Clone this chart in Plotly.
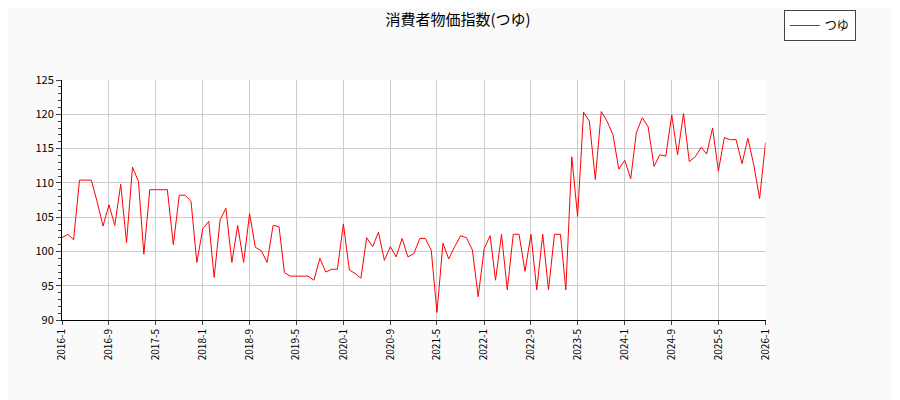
import pandas as pd
import plotly.graph_objects as go

# 月次データ 2016-1 〜 2026-1
months = pd.date_range('2016-01-01', '2026-01-01', freq='MS')

values = [
    102.0, 102.5, 101.7, 110.4, 110.4, 110.4, 107.3, 103.7, 106.8, 103.8, 109.8, 101.3,  # 2016
    112.3, 110.2, 99.6, 109.0, 109.0, 109.0, 109.0, 101.0, 108.2, 108.2, 107.3, 98.4,    # 2017
    103.3, 104.4, 96.2, 104.6, 106.3, 98.4, 103.8, 98.4, 105.5, 100.6, 100.1, 98.4,      # 2018
    103.8, 103.6, 96.9, 96.4, 96.4, 96.4, 96.4, 95.8, 99.0, 97.0, 97.4, 97.4,            # 2019
    104.0, 97.3, 96.8, 96.1, 102.0, 100.7, 102.8, 98.7, 100.7, 99.2, 101.9, 99.2,        # 2020
    99.7, 101.9, 101.9, 100.2, 91.1, 101.2, 98.9, 100.7, 102.3, 102.0, 100.2, 93.4,      # 2021
    100.4, 102.3, 95.8, 102.5, 94.4, 102.5, 102.5, 97.1, 102.5, 94.4, 102.5, 94.4,       # 2022
    102.5, 102.5, 94.4, 113.8, 105.1, 120.3, 119.0, 110.5, 120.4, 119.0, 117.0, 112.0,   # 2023
    113.3, 110.6, 117.3, 119.5, 118.2, 112.4, 114.1, 113.9, 119.9, 114.1, 120.1, 113.1,  # 2024
    113.8, 115.2, 114.2, 118.0, 111.7, 116.6, 116.3, 116.3, 112.8, 116.5, 112.6, 107.7,  # 2025
    115.9,                                                                               # 2026
]

tick_dates = ['2016-01-01', '2016-09-01', '2017-05-01', '2018-01-01', '2018-09-01', '2019-05-01',
              '2020-01-01', '2020-09-01', '2021-05-01', '2022-01-01', '2022-09-01', '2023-05-01',
              '2024-01-01', '2024-09-01', '2025-05-01', '2026-01-01']
tick_labels = ['2016-1', '2016-9', '2017-5', '2018-1', '2018-9', '2019-5', '2020-1', '2020-9',
               '2021-5', '2022-1', '2022-9', '2023-5', '2024-1', '2024-9', '2025-5', '2026-1']

fig = go.Figure()
fig.add_trace(go.Scatter(x=months, y=values, mode='lines', name='つゆ',
                         line=dict(color='red', width=1)))

fig.update_layout(
    width=900, height=400,
    paper_bgcolor='#fafafa', plot_bgcolor='white',
    margin=dict(l=54, r=68, t=72, b=88),
    font=dict(family='Noto Sans CJK JP, DejaVu Sans', size=11, color='black'),
    title=dict(text='消費者物価指数(つゆ)', x=0.5, xanchor='center', y=0.985, yanchor='top',
               font=dict(size=15)),
    showlegend=True,
    legend=dict(xref='container', yref='container', x=0.942, y=0.995, xanchor='right', yanchor='top',
                bgcolor='white', bordercolor='#444', borderwidth=1, font=dict(size=12),
                itemwidth=30, tracegroupgap=0),
)
fig.update_xaxes(range=['2016-01-01', '2026-01-01'], tickvals=tick_dates, ticktext=tick_labels,
                 tickangle=-90, showgrid=True, gridcolor='#cccccc', showline=True,
                 linecolor='black', ticks='outside', ticklen=4, tickfont=dict(size=10))
fig.update_yaxes(range=[90, 125], dtick=5, showgrid=True, gridcolor='#cccccc', showline=True,
                 linecolor='black', ticks='outside', ticklen=5, tickfont=dict(size=11),
                 minor=dict(dtick=1, ticks='outside', ticklen=3, showgrid=False))

fig.write_html('out.html')
